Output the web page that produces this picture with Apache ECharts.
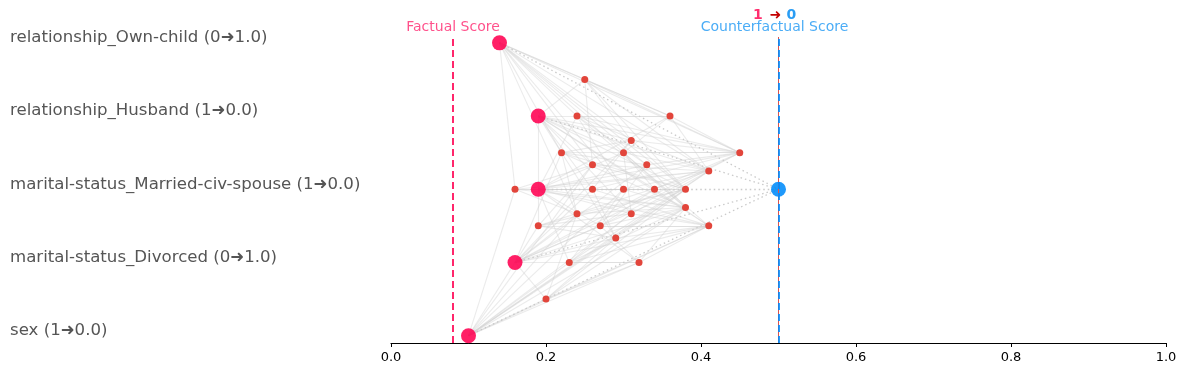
<!DOCTYPE html>
<html>
<head>
<meta charset="utf-8">
<script src="https://cdn.jsdelivr.net/npm/echarts@6/dist/echarts.min.js"></script>
<style>html,body{margin:0;padding:0;background:#fff;}#c{width:1187px;height:377px;}</style>
</head>
<body>
<div id="c"></div>
<script>
// Feature rows, bottom (0) to top (4)
const featureLabels = [
  'sex (1➜0.0)',
  'marital-status_Divorced (0➜1.0)',
  'marital-status_Married-civ-spouse (1➜0.0)',
  'relationship_Husband (1➜0.0)',
  'relationship_Own-child (0➜1.0)'
];
// Feature subsets (row indices) and their scores
const subsetMembers = [
  [4],[3],[2],[1],[0],
  [4,3],[4,2],[4,1],[4,0],[3,2],[3,1],[3,0],[2,1],[2,0],[1,0],
  [4,3,2],[4,3,1],[4,3,0],[4,2,1],[4,2,0],[4,1,0],[3,2,1],[3,2,0],[3,1,0],[2,1,0],
  [4,3,2,1],[4,3,2,0],[4,3,1,0],[4,2,1,0],[3,2,1,0],
  [4,3,2,1,0]
];
const subsetScores = [
  0.14,0.19,0.19,0.16,0.10,
  0.25,0.24,0.22,0.16,0.30,0.26,0.19,0.27,0.23,0.20,
  0.36,0.31,0.26,0.33,0.30,0.24,0.34,0.31,0.29,0.32,
  0.45,0.41,0.38,0.38,0.41,
  0.50
];
const factualScore = 0.08;
const counterfactualScore = 0.5;
const classFrom = '1', classTo = '0';
const xTicks = [0, 0.2, 0.4, 0.6, 0.8, 1.0];

const FONT = 'DejaVu Sans';
const PINK = '#ff0051', BLUE = '#008bfb', DOT = '#e2453b';
const nFeat = featureLabels.length;

const nodes = subsetMembers.map((m, i) => {
  const yv = m.reduce((a, b) => a + b, 0) / m.length;
  let style, size;
  if (m.length === 1) { style = { color: PINK, opacity: 0.88 }; size = 15; }
  else if (m.length === nFeat) { style = { color: BLUE, opacity: 0.88 }; size = 15; }
  else { style = { color: DOT }; size = 7; }
  return { name: m.join('-'), value: [subsetScores[i], yv], symbolSize: size, itemStyle: style };
});

const links = [];
const isSub = (a, b) => a.every(v => b.includes(v));
subsetMembers.forEach((s, i) => {
  subsetMembers.forEach((t, j) => {
    if (t.length <= s.length || !isSub(s, t)) return;
    if (t.length === nFeat) {
      if (s.length === 1) links.push({ source: i, target: j, lineStyle: { color: '#c4c4c4', width: 1.3, type: [1.5, 3], opacity: 0.9 } });
    } else {
      links.push({ source: i, target: j, lineStyle: { color: '#cfcfcf', width: 1.1, type: 'solid', opacity: 0.42 } });
    }
  });
});

const chart = echarts.init(document.getElementById('c'));
chart.setOption({
  animation: false,
  textStyle: { fontFamily: FONT },
  grid: { left: 391, right: 21, top: 37, bottom: 34 },
  xAxis: {
    type: 'value', min: 0, max: 1, interval: 0.2,
    axisLine: { show: true, onZero: false, lineStyle: { color: '#000', width: 1.2 } },
    axisTick: { show: true, length: 4, lineStyle: { color: '#000' } },
    axisLabel: { color: '#000', fontSize: 13, fontFamily: FONT, margin: 8, formatter: v => v.toFixed(1),
      customValues: xTicks },
    splitLine: { show: false }
  },
  yAxis: {
    type: 'value', min: -0.1, max: 4.08,
    axisLine: { show: false }, axisTick: { show: false }, splitLine: { show: false },
    axisLabel: {
      customValues: [0, 1, 2, 3, 4],
      formatter: v => featureLabels[Math.round(v)] || '',
      align: 'left', margin: 381, color: '#555', fontSize: 16.6, fontFamily: FONT,
      verticalAlign: 'bottom', lineHeight: 10
    }
  },
  graphic: [{
    type: 'text', left: 753, top: 8,
    style: {
      text: '{a|' + classFrom + '}  {b|➜} {c|' + classTo + '}',
      rich: {
        a: { fill: '#ff2d6e', fontWeight: 'bold', fontSize: 14, fontFamily: FONT },
        b: { fill: '#c40000', fontWeight: 'bold', fontSize: 14, fontFamily: FONT },
        c: { fill: '#2a9df4', fontWeight: 'bold', fontSize: 14, fontFamily: FONT, padding: [0, 0, 0, 2] }
      }
    }
  }],
  series: [
    {
      type: 'scatter', data: [], silent: true,
      markLine: {
        silent: true, symbol: 'none', animation: false,
        data: [
          { xAxis: counterfactualScore, lineStyle: { color: '#d9534f', width: 1, type: 'solid' }, label: { show: false } },
          { xAxis: factualScore, name: 'Factual Score', lineStyle: { color: PINK, width: 2, type: [7, 4], opacity: 0.85 },
            label: { show: true, position: 'end', formatter: '{b}', color: '#ff3377', fontSize: 14, fontFamily: FONT, distance: 3 } },
          { xAxis: counterfactualScore, name: 'Counterfactual Score', lineStyle: { color: BLUE, width: 2, type: [7, 4], opacity: 0.85 },
            label: { show: true, position: 'end', formatter: '{b}', color: '#2a9df4', fontSize: 14, fontFamily: FONT, distance: 3, offset: [-4, 0] } }
        ]
      },
      z: 1
    },
    {
      type: 'graph', coordinateSystem: 'cartesian2d', layout: 'none',
      data: nodes, links: links, symbol: 'circle',
      edgeSymbol: ['none', 'none'],
      label: { show: false }, emphasis: { disabled: true },
      z: 3
    }
  ]
});
</script>
</body>
</html>
